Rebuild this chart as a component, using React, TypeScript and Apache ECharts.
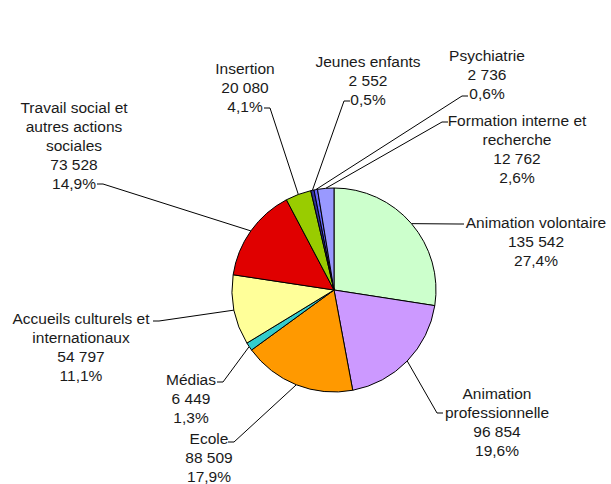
import React, { useEffect, useRef } from "react";
import * as echarts from "echarts";

const categories = [
  "Animation volontaire",
  "Animation\nprofessionnelle",
  "Ecole",
  "Médias",
  "Accueils culturels et\ninternationaux",
  "Travail social et\nautres actions\nsociales",
  "Insertion",
  "Jeunes enfants",
  "Psychiatrie",
  "Formation interne et\nrecherche",
];
const values = [135542, 96854, 88509, 6449, 54797, 73528, 20080, 2552, 2736, 12762];
const colors = [
  "#ccffcc", "#cc99ff", "#ff9900", "#33cccc", "#ffff99",
  "#e00000", "#99cc00", "#333399", "#6666ff", "#9999ff",
];

// label layout: text centre x, first-line centre y, leader attach point, tick direction
const labelLayoutPos = [
  { x: 536, y: 222, ax: 464, ay: 224, dir: -1 },
  { x: 497, y: 393, ax: 443, ay: 413, dir: -1 },
  { x: 209, y: 438, ax: 228, ay: 442, dir: 1 },
  { x: 191, y: 379, ax: 217, ay: 382, dir: 1 },
  { x: 81, y: 318, ax: 153, ay: 321, dir: 1 },
  { x: 74, y: 107, ax: 97, ay: 184, dir: 1 },
  { x: 245, y: 68, ax: 264, ay: 108, dir: 1 },
  { x: 368, y: 61, ax: 350, ay: 101, dir: -1 },
  { x: 487, y: 55, ax: 468, ay: 96, dir: -1 },
  { x: 517, y: 120, ax: 448, ay: 122, dir: -1 },
];

const LINE_H = 19;
const total = values.reduce((a, b) => a + b, 0);
const fmtNum = (v: number) => String(v).replace(/\B(?=(\d{3})+(?!\d))/g, " ");
const fmtPct = (v: number) => ((v / total) * 100).toFixed(1).replace(".", ",") + "%";

export default function App() {
  const ref = useRef<HTMLDivElement>(null);
  useEffect(() => {
    if (!ref.current) return;
    const chart = echarts.init(ref.current, null, { renderer: "svg" });
    chart.setOption({
      animation: false,
      backgroundColor: "#ffffff",
      series: [
        {
          type: "pie",
          center: [334, 290],
          radius: 102,
          startAngle: 90,
          clockwise: true,
          avoidLabelOverlap: false,
          data: categories.map((name, i) => ({
            name,
            value: values[i],
            itemStyle: { color: colors[i] },
          })),
          itemStyle: { borderColor: "#000", borderWidth: 1 },
          label: {
            show: true,
            position: "outside",
            formatter: (p: any) =>
              `${categories[p.dataIndex]}\n${fmtNum(values[p.dataIndex])}\n${fmtPct(values[p.dataIndex])}`,
            fontFamily: "Liberation Sans, Arial, sans-serif",
            fontSize: 15.5,
            lineHeight: LINE_H,
            color: "#1a1a1a",
            align: "center",
          },
          labelLine: {
            show: true,
            length: 10,
            length2: 10,
            lineStyle: { color: "#000", width: 1 },
          },
          labelLayout: (params: any) => {
            const L = labelLayoutPos[params.dataIndex];
            const start = params.labelLinePoints ? params.labelLinePoints[0] : [L.ax, L.ay];
            return {
              x: L.x,
              y: L.y - LINE_H / 2,
              align: "center",
              verticalAlign: "top",
              labelLinePoints: [start, [L.ax + L.dir * 6, L.ay], [L.ax, L.ay]],
            };
          },
        },
      ],
    });
    return () => chart.dispose();
  }, []);
  return (
    <div
      ref={ref}
      style={{ position: "fixed", left: 0, top: 0, width: 611, height: 484, background: "#fff" }}
    />
  );
}
